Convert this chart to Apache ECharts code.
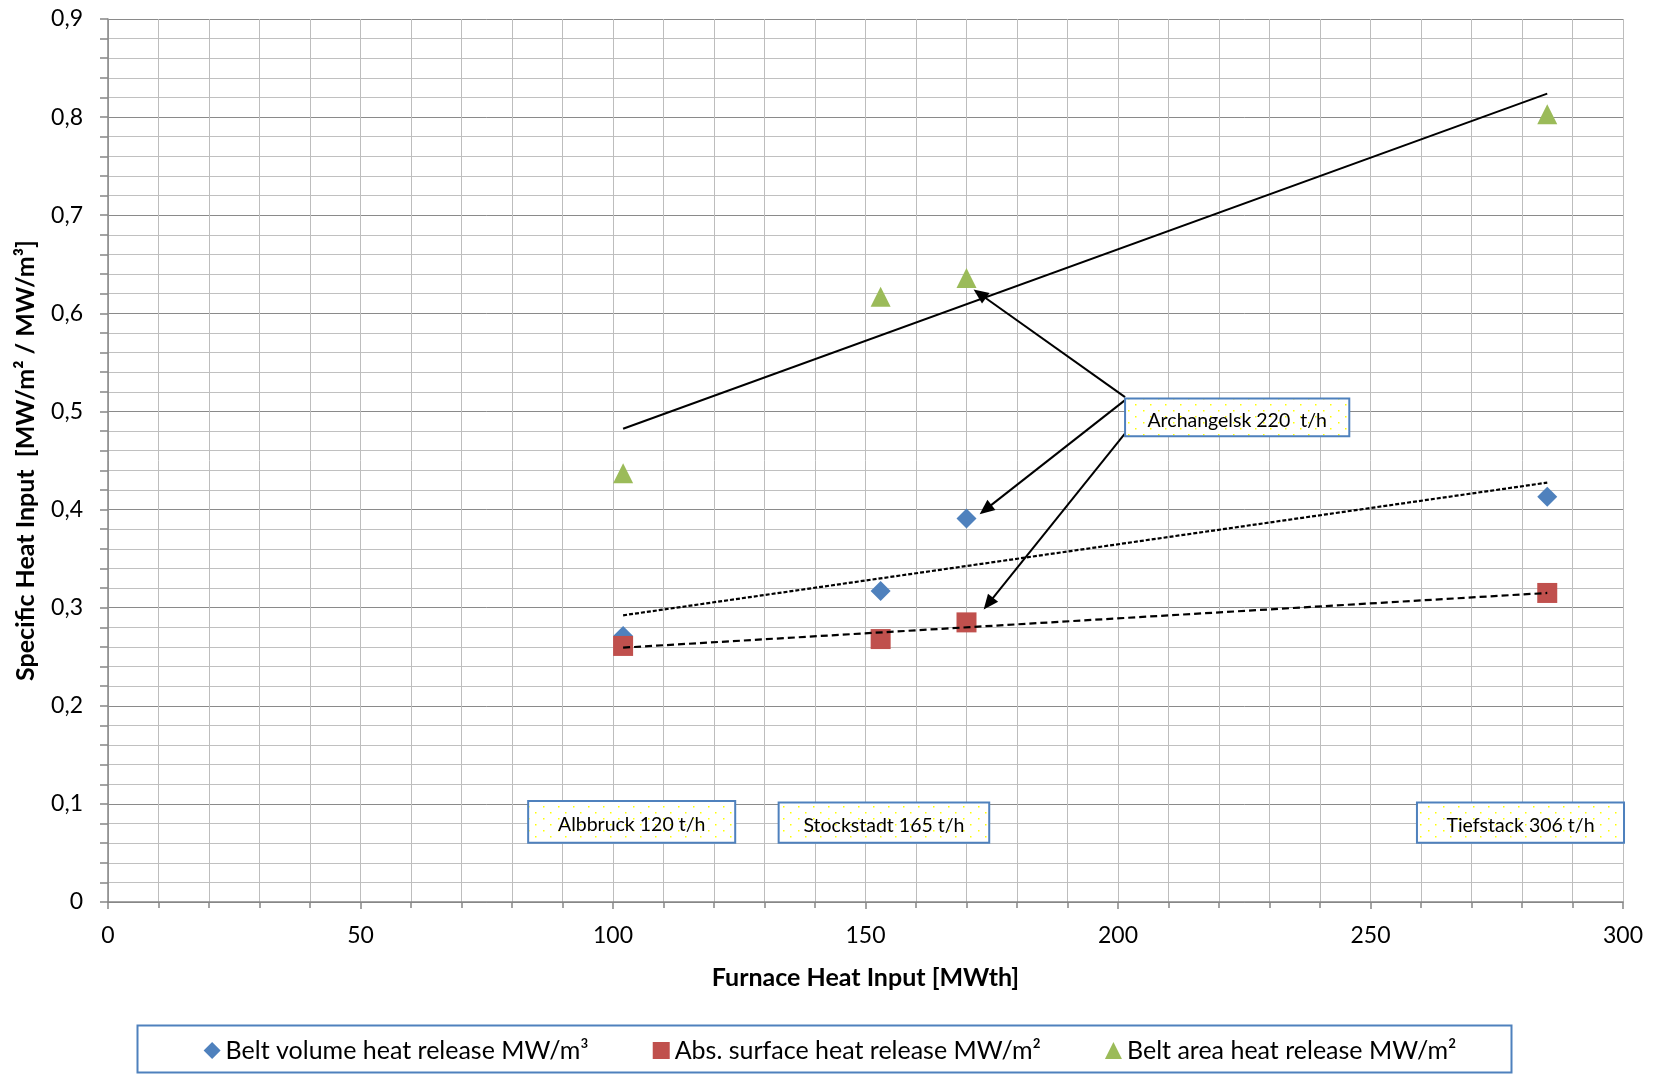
<!DOCTYPE html>
<html>
<head>
<meta charset="utf-8">
<script src="https://cdn.jsdelivr.net/npm/echarts@6/dist/echarts.min.js"></script>
<style>
html,body{margin:0;padding:0;background:#fff;}
#chart{width:1660px;height:1075px;}
</style>
</head>
<body>
<div id="chart"></div>
<script>
// ---------------- data ----------------
const furnaceHeatInput = [102, 153, 170, 285];
const beltVolumeHeat  = [0.271, 0.317, 0.391, 0.413];
const absSurfaceHeat  = [0.261, 0.268, 0.285, 0.315];
const beltAreaHeat    = [0.437, 0.617, 0.636, 0.803];
const seriesNames = ['Belt volume heat release MW/m³', 'Abs. surface heat release MW/m²', 'Belt area heat release MW/m²'];
const plantLabels = ['Albbruck 120 t/h', 'Stockstadt 165 t/h', 'Archangelsk 220  t/h', 'Tiefstack 306 t/h'];
const yTickValues = [0, 0.1, 0.2, 0.3, 0.4, 0.5, 0.6, 0.7, 0.8, 0.9];
const xTickValues = [0, 50, 100, 150, 200, 250, 300];

// ---------------- layout (annotation placement in axis units) ----------------
const boxLayout = [
  {x0: 83.2,  x1: 124.2, yTop: 0.1029, yBot: 0.0604},
  {x0: 132.8, x1: 174.5, yTop: 0.1013, yBot: 0.0604},
  {x0: 201.4, x1: 245.8, yTop: 0.5132, yBot: 0.4748},
  {x0: 259.2, x1: 300.2, yTop: 0.1014, yBot: 0.0604}
];
const arrowLayout = [
  {from: [201.4, 0.5146], to: [171.4, 0.6243]},
  {from: [201.4, 0.5115], to: [172.6, 0.3953]},
  {from: [201.4, 0.4776], to: [173.4, 0.2982]}
];

const FONT = 'Lato, "Open Sans", sans-serif';
const colors = ['#4f81bd', '#c0504d', '#9bbb59'];

function pairs(xs, ys) { return xs.map((x, i) => [x, ys[i]]); }
function trend(xs, ys) {
  const n = xs.length;
  const mx = xs.reduce((a, b) => a + b, 0) / n;
  const my = ys.reduce((a, b) => a + b, 0) / n;
  let sxy = 0, sxx = 0;
  for (let i = 0; i < n; i++) { sxy += (xs[i] - mx) * (ys[i] - my); sxx += (xs[i] - mx) * (xs[i] - mx); }
  const b = sxy / sxx, a = my - b * mx;
  const x0 = Math.min(...xs), x1 = Math.max(...xs);
  return [[x0, a + b * x0], [x1, a + b * x1]];
}

const chart = echarts.init(document.getElementById('chart'), null, {renderer: 'canvas'});

const option = {
  animation: false,
  backgroundColor: '#ffffff',
  textStyle: {fontFamily: FONT},
  grid: {left: 108, right: 37, top: 19, bottom: 173, containLabel: false},
  xAxis: {
    type: 'value', min: 0, max: 300, interval: 50,
    name: 'Furnace Heat Input [MWth]', nameLocation: 'middle', nameGap: 63,
    nameTextStyle: {fontFamily: FONT, fontSize: 25, fontWeight: 'bold', color: '#000'},
    axisLine: {show: true, onZero: false, lineStyle: {color: '#868686', width: 1.5}},
    axisTick: {show: true, length: 7, lineStyle: {color: '#868686', width: 1.5}},
    minorTick: {show: true, splitNumber: 5, length: 6, lineStyle: {color: '#868686', width: 1.5}},
    axisLabel: {fontFamily: FONT, fontSize: 23, color: '#000', margin: 22,
      formatter: v => xTickValues.includes(v) ? String(v) : ''},
    splitLine: {show: true, lineStyle: {color: '#bdbdbd', width: 1}},
    minorSplitLine: {show: true, lineStyle: {color: '#bdbdbd', width: 1}}
  },
  yAxis: {
    type: 'value', min: 0, max: 0.9, interval: 0.1,
    name: 'Specific Heat Input  [MW/m² / MW/m³]', nameLocation: 'middle', nameGap: 70,
    nameTextStyle: {fontFamily: FONT, fontSize: 25, fontWeight: 'bold', color: '#000'},
    axisLine: {show: true, onZero: false, lineStyle: {color: '#868686', width: 1.5}},
    axisTick: {show: true, length: 8, lineStyle: {color: '#868686', width: 1.5}},
    minorTick: {show: true, splitNumber: 5, length: 8, lineStyle: {color: '#868686', width: 1.5}},
    axisLabel: {fontFamily: FONT, fontSize: 23, color: '#000', margin: 25,
      formatter: v => {
        const t = yTickValues.find(k => Math.abs(k - v) < 1e-9);
        if (t === undefined) return '';
        return t === 0 ? '0' : t.toFixed(1).replace('.', ',');
      }},
    splitLine: {show: true, lineStyle: {color: '#8a8a8a', width: 1}},
    minorSplitLine: {show: true, lineStyle: {color: '#c0c0c0', width: 1.2}}
  },
  legend: {
    show: true, left: 'center', top: 1033,
    data: [
      {name: seriesNames[0], icon: 'diamond'},
      {name: seriesNames[1], icon: 'rect'},
      {name: seriesNames[2], icon: 'triangle'}
    ],
    itemWidth: 17, itemHeight: 17, itemGap: 64,
    textStyle: {fontFamily: FONT, fontSize: 25, color: '#000'}
  },
  series: [
    {name: seriesNames[0], type: 'scatter', symbol: 'diamond', symbolSize: 20, z: 2,
      itemStyle: {color: colors[0], opacity: 1}, data: pairs(furnaceHeatInput, beltVolumeHeat)},
    {name: seriesNames[1], type: 'scatter', symbol: 'rect', symbolSize: 20, z: 2,
      itemStyle: {color: colors[1], opacity: 1}, data: pairs(furnaceHeatInput, absSurfaceHeat)},
    {name: seriesNames[2], type: 'scatter', symbol: 'triangle', symbolSize: 20, z: 2,
      itemStyle: {color: colors[2], opacity: 1}, data: pairs(furnaceHeatInput, beltAreaHeat)},
    {name: 'trend1', type: 'line', showSymbol: false, symbol: 'none', silent: true, z: 3,
      lineStyle: {color: '#000', width: 2.2, type: [4, 2]}, data: trend(furnaceHeatInput, beltVolumeHeat)},
    {name: 'trend2', type: 'line', showSymbol: false, symbol: 'none', silent: true, z: 3,
      lineStyle: {color: '#000', width: 2.2, type: [7, 4]}, data: trend(furnaceHeatInput, absSurfaceHeat)},
    {name: 'trend3', type: 'line', showSymbol: false, symbol: 'none', silent: true, z: 3,
      lineStyle: {color: '#000', width: 2, type: 'solid'}, data: trend(furnaceHeatInput, beltAreaHeat)}
  ]
};
chart.setOption(option);

// pattern for annotation boxes (white with sparse yellow dots)
const pat = document.createElement('canvas');
pat.width = 15; pat.height = 12;
const pc = pat.getContext('2d');
pc.fillStyle = '#ffffff'; pc.fillRect(0, 0, 15, 12);
pc.fillStyle = '#ffff00';
pc.fillRect(3, 2, 1.5, 1.5);
pc.fillRect(10, 8, 1.5, 1.5);

const px = p => chart.convertToPixel({gridIndex: 0}, p);
const graphics = [];

// arrows
arrowLayout.forEach(a => {
  const s = px(a.from), t = px(a.to);
  const dx = t[0] - s[0], dy = t[1] - s[1];
  const len = Math.sqrt(dx * dx + dy * dy);
  const ux = dx / len, uy = dy / len;
  const hl = 15, hw = 6.5;
  const bx = t[0] - ux * hl, by = t[1] - uy * hl;
  graphics.push({type: 'line', z: 50, silent: true,
    shape: {x1: s[0], y1: s[1], x2: bx + ux * 2, y2: by + uy * 2},
    style: {stroke: '#000', lineWidth: 2}});
  graphics.push({type: 'polygon', z: 51, silent: true,
    shape: {points: [[t[0], t[1]], [bx - uy * hw, by + ux * hw], [bx + uy * hw, by - ux * hw]]},
    style: {fill: '#000'}});
});

// annotation boxes
boxLayout.forEach((b, i) => {
  const p0 = px([b.x0, b.yTop]), p1 = px([b.x1, b.yBot]);
  const w = p1[0] - p0[0], h = p1[1] - p0[1];
  graphics.push({type: 'rect', z: 60, silent: true,
    shape: {x: p0[0], y: p0[1], width: w, height: h},
    style: {fill: {image: pat, repeat: 'repeat'}, stroke: '#4f81bd', lineWidth: 2}});
  graphics.push({type: 'text', z: 61, silent: true,
    style: {x: p0[0] + w / 2, y: p0[1] + h / 2 + 3, text: plantLabels[i], align: 'center', verticalAlign: 'middle',
      font: '19.5px ' + FONT, fill: '#000'}});
});

// legend frame
graphics.push({type: 'rect', z: 40, silent: true,
  shape: {x: 137.5, y: 1025.5, width: 1374, height: 47},
  style: {fill: 'none', stroke: '#4f81bd', lineWidth: 2}});

chart.setOption({graphic: graphics});
</script>
</body>
</html>
